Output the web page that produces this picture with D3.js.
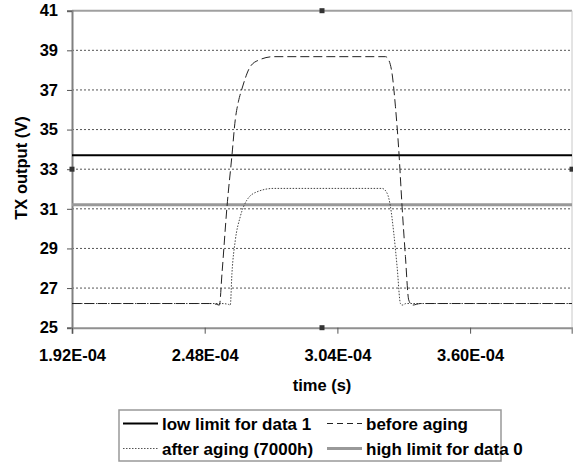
<!DOCTYPE html>
<html><head><meta charset="utf-8">
<script src="https://cdn.jsdelivr.net/npm/d3@7"></script>
<style>
body{margin:0;background:#fff;}
text{font-family:"Liberation Sans",Arial,sans-serif;font-weight:bold;fill:#000;}
</style></head>
<body><svg id="c" width="573" height="462"></svg>
<script>
// Data
const yTicks = [25, 27, 29, 31, 33, 35, 37, 39, 41];
const xTicks = [1.92e-4, 2.48e-4, 3.04e-4, 3.60e-4];
const xTickLabels = ["1.92E-04", "2.48E-04", "3.04E-04", "3.60E-04"];
const lowLimitData1 = 33.7;
const highLimitData0 = 31.2;
const beforeTime = [1.92e-4, 2.50e-4, 2.53e-4, 2.542e-4, 2.553e-4, 2.574e-4, 2.595e-4, 2.609e-4, 2.622e-4, 2.637e-4, 2.672e-4, 2.707e-4, 2.771e-4, 3.0e-4, 3.243e-4, 3.257e-4, 3.271e-4, 3.285e-4, 3.299e-4, 3.313e-4, 3.327e-4, 3.341e-4, 3.356e-4, 3.391e-4, 4.03e-4];
const beforeVal = [26.22, 26.22, 26.18, 26.14, 27.74, 31.1, 33.7, 35.5, 36.4, 37.05, 38.17, 38.5, 38.68, 38.68, 38.68, 38.5, 37.8, 36.15, 33.96, 31.1, 28.6, 26.4, 26.14, 26.22, 26.22];
const afterTime = [1.92e-4, 2.55e-4, 2.58e-4, 2.588e-4, 2.595e-4, 2.609e-4, 2.63e-4, 2.658e-4, 2.701e-4, 2.771e-4, 3.0e-4, 3.229e-4, 3.25e-4, 3.264e-4, 3.278e-4, 3.292e-4, 3.306e-4, 3.313e-4, 3.33e-4, 4.03e-4];
const afterVal = [26.22, 26.22, 26.18, 26.14, 27.75, 29.4, 30.6, 31.44, 31.86, 32.03, 32.03, 32.03, 31.78, 31.1, 29.76, 28.07, 26.22, 26.14, 26.22, 26.22];
const legendLabels = ["low limit for data 1", "before aging", "after aging (7000h)", "high limit for data 0"];

const svg = d3.select("#c");
const L = 72, R = 572, T = 10.7, B = 327.7;
const x = d3.scaleLinear().domain([1.92e-4, 4.03e-4]).range([L, R]);
const y = d3.scaleLinear().domain([25, 41]).range([B, T]);

// gridlines
svg.append("g").selectAll("line").data(yTicks.filter(v => v > 25 && v < 41)).join("line")
  .attr("x1", L).attr("x2", R).attr("y1", d => y(d)).attr("y2", d => y(d))
  .attr("stroke", "#555").attr("stroke-width", 1).attr("stroke-dasharray", "2,2");

// top border & right border
svg.append("line").attr("x1", L).attr("x2", R).attr("y1", y(41)).attr("y2", y(41))
  .attr("stroke", "#a0a0a0").attr("stroke-width", 2);
svg.append("line").attr("x1", R).attr("x2", R).attr("y1", T).attr("y2", B)
  .attr("stroke", "#c8c8c8").attr("stroke-width", 1);

// Y axis
const yAxis = d3.axisLeft(y).tickValues(yTicks).tickSize(5).tickPadding(9).tickFormat(d3.format("d"));
const gy = svg.append("g").attr("transform", `translate(${L},0)`).call(yAxis);
gy.select(".domain").attr("stroke", "#808080").attr("stroke-width", 2);
gy.selectAll(".tick line").attr("stroke", "#555");
gy.selectAll(".tick text").style("font-size", "16.5px").style("font-family", "Liberation Sans, Arial, sans-serif").style("font-weight", "bold");

// X axis
const xAxis = d3.axisBottom(x).tickValues(xTicks).tickSize(6).tickPadding(16)
  .tickFormat((d, i) => xTickLabels[i]);
const gx = svg.append("g").attr("transform", `translate(0,${B})`).call(xAxis);
gx.select(".domain").attr("stroke", "#909090").attr("stroke-width", 2);
gx.selectAll(".tick line").attr("stroke", "#555");
gx.selectAll(".tick text").style("font-size", "16.5px").style("font-family", "Liberation Sans, Arial, sans-serif").style("font-weight", "bold");

// limit lines
svg.append("line").attr("x1", L).attr("x2", R).attr("y1", y(highLimitData0)).attr("y2", y(highLimitData0))
  .attr("stroke", "#999").attr("stroke-width", 3);
svg.append("line").attr("x1", L).attr("x2", R).attr("y1", y(lowLimitData1)).attr("y2", y(lowLimitData1))
  .attr("stroke", "#000").attr("stroke-width", 2);

const line = d3.line().x(d => x(d[0])).y(d => y(d[1])).curve(d3.curveMonotoneX);
svg.append("path").datum(afterTime.map((t, i) => [t, afterVal[i]])).attr("d", line)
  .attr("fill", "none").attr("stroke", "#444").attr("stroke-width", 1).attr("stroke-dasharray", "1.5,1.5");
svg.append("path").datum(beforeTime.map((t, i) => [t, beforeVal[i]])).attr("d", line)
  .attr("fill", "none").attr("stroke", "#222").attr("stroke-width", 1).attr("stroke-dasharray", "9,4");

// selection handles
[[(L + R) / 2, T], [(L + R) / 2, B], [L, (T + B) / 2], [R, (T + B) / 2]].forEach(p => {
  svg.append("rect").attr("x", p[0] - 2.5).attr("y", p[1] - 2.5).attr("width", 5).attr("height", 5).attr("fill", "#333");
});

// axis titles
svg.append("text").attr("x", 322).attr("y", 391).attr("text-anchor", "middle").style("font-size", "16.5px").text("time (s)");
svg.append("text").attr("transform", "translate(27,168) rotate(-90)").attr("text-anchor", "middle").style("font-size", "16.5px").text("TX output (V)");

// legend
const lg = svg.append("g");
lg.append("rect").attr("x", 119).attr("y", 410).attr("width", 382).attr("height", 51)
  .attr("fill", "#fff").attr("stroke", "#999").attr("stroke-width", 1.5);
const items = [
  {label: legendLabels[0], col: 0, row: 0, stroke: "#000", w: 2, dash: null},
  {label: legendLabels[1], col: 1, row: 0, stroke: "#222", w: 1, dash: "6,4"},
  {label: legendLabels[2], col: 0, row: 1, stroke: "#555", w: 1, dash: "1.5,1.5"},
  {label: legendLabels[3], col: 1, row: 1, stroke: "#999", w: 3, dash: null}
];
const colX = [123, 327], rowY = [423.5, 448.5];
items.forEach(it => {
  const x0 = colX[it.col], yy = rowY[it.row];
  const ln = lg.append("line").attr("x1", x0).attr("x2", x0 + 35).attr("y1", yy).attr("y2", yy)
    .attr("stroke", it.stroke).attr("stroke-width", it.w);
  if (it.dash) ln.attr("stroke-dasharray", it.dash);
  lg.append("text").attr("x", x0 + 39).attr("y", yy + 6).style("font-size", "17px").text(it.label);
});
</script></body></html>
